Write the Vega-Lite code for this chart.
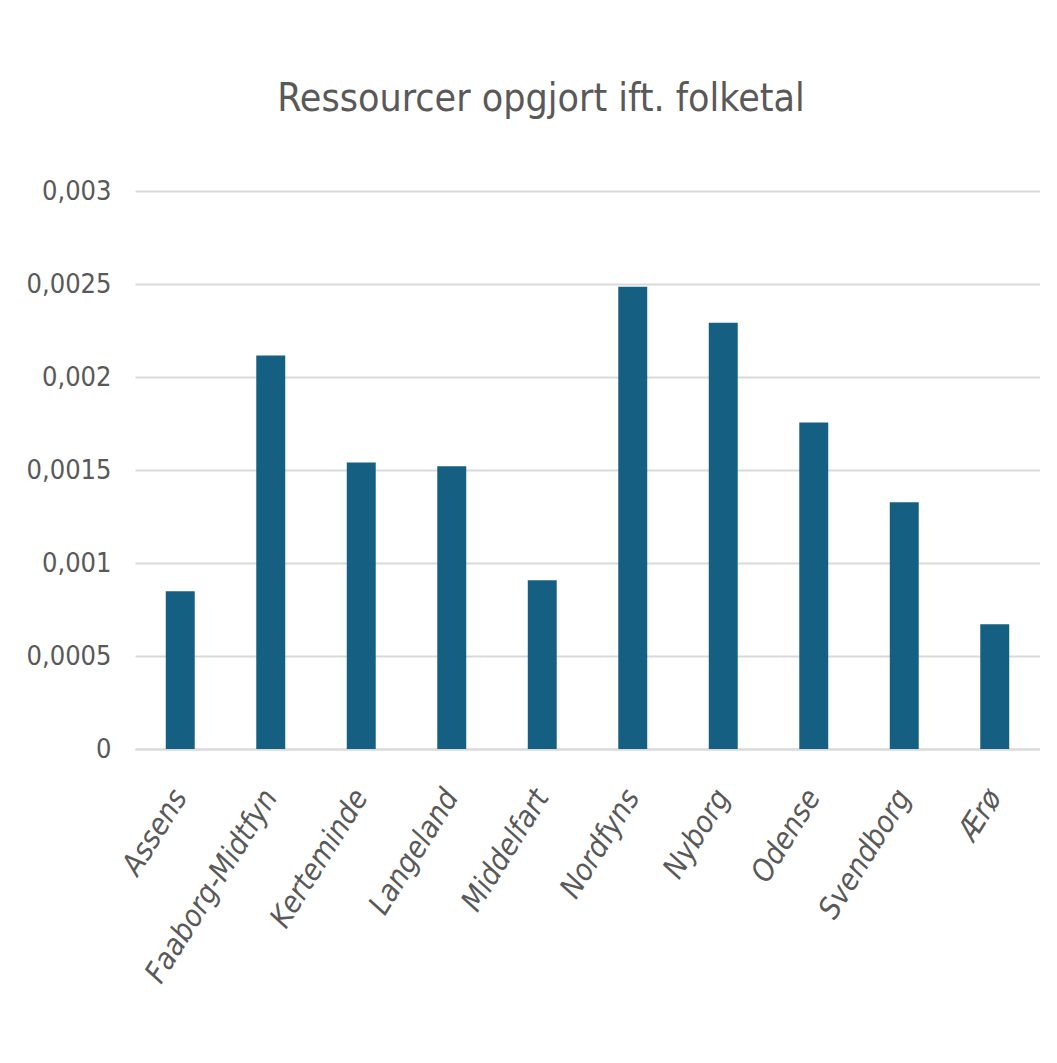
{
  "$schema": "https://vega.github.io/schema/vega-lite/v6.json",
  "width": 905,
  "height": 558,
  "autosize": {"type": "pad"},
  "padding": {"left": 26, "top": 80, "right": 0, "bottom": 0},
  "background": "white",
  "title": {
    "text": "Ressourcer opgjort ift. folketal",
    "font": "DejaVu Sans Condensed, Liberation Sans",
    "fontSize": 39,
    "fontWeight": "normal",
    "color": "#595959",
    "anchor": "middle",
    "frame": "bounds",
    "offset": 58,
    "dx": 8
  },
  "data": {
    "values": [
      {"kommune": "Assens", "vaerdi": 0.000848},
      {"kommune": "Faaborg-Midtfyn", "vaerdi": 0.002115},
      {"kommune": "Kerteminde", "vaerdi": 0.00154},
      {"kommune": "Langeland", "vaerdi": 0.00152},
      {"kommune": "Middelfart", "vaerdi": 0.000907},
      {"kommune": "Nordfyns", "vaerdi": 0.002485},
      {"kommune": "Nyborg", "vaerdi": 0.002292},
      {"kommune": "Odense", "vaerdi": 0.001755},
      {"kommune": "Svendborg", "vaerdi": 0.001326},
      {"kommune": "Ærø", "vaerdi": 0.000671}
    ]
  },
  "mark": {"type": "bar", "color": "#156082"},
  "encoding": {
    "x": {
      "field": "kommune",
      "type": "nominal",
      "sort": null,
      "scale": {"paddingInner": 0.68, "paddingOuter": 0.34},
      "axis": {
        "title": null,
        "labelAngle": -58,
        "labelAlign": "right",
        "labelBaseline": "middle",
        "labelFont": "DejaVu Sans Condensed, Liberation Sans",
        "labelFontStyle": "oblique",
        "labelFontSize": 30,
        "labelColor": "#595959",
        "labelPadding": 43,
        "labelLimit": 0,
        "labelOverlap": false,
        "ticks": false,
        "domainColor": "#d9d9d9",
        "domainWidth": 2
      }
    },
    "y": {
      "field": "vaerdi",
      "type": "quantitative",
      "scale": {"domain": [0, 0.003], "nice": false},
      "axis": {
        "title": null,
        "values": [0, 0.0005, 0.001, 0.0015, 0.002, 0.0025, 0.003],
        "labelExpr": "replace(toString(datum.value), '.', ',')",
        "labelFont": "DejaVu Sans Condensed, Liberation Sans",
        "labelFontSize": 27,
        "labelColor": "#595959",
        "labelPadding": 24,
        "ticks": false,
        "domain": false,
        "gridColor": "#d9d9d9",
        "gridWidth": 2,
        "minExtent": 100,
        "maxExtent": 100
      }
    }
  },
  "config": {"view": {"stroke": null}}
}
